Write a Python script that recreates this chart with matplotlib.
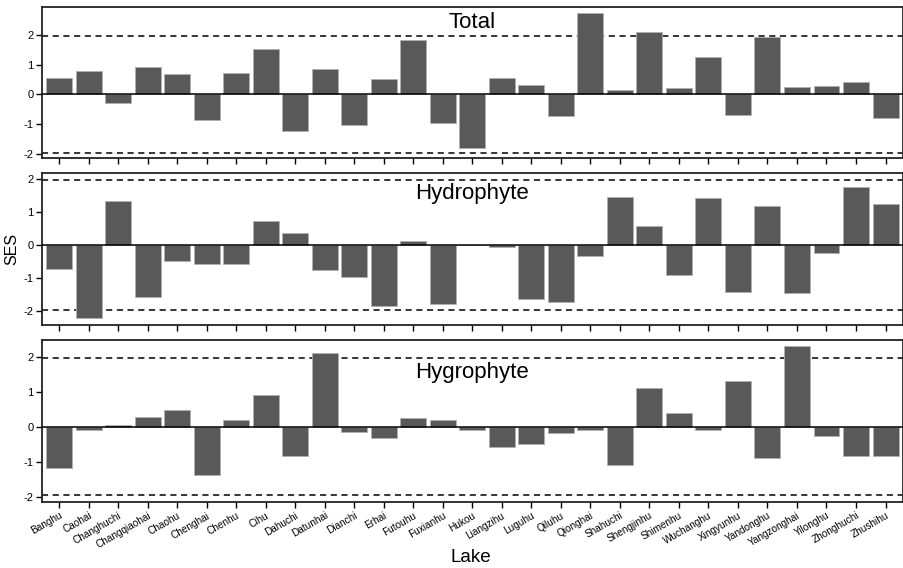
import numpy as np
import matplotlib
matplotlib.use("Agg")
import matplotlib.pyplot as plt

plt.rcParams["font.family"] = ["Liberation Sans", "DejaVu Sans"]
plt.rcParams["axes.unicode_minus"] = False

lakes = ["Banghu", "Caohai", "Changhuchi", "Changqiaohai", "Chaohu", "Chenghai",
         "Chenhu", "Cihu", "Dahuchi", "Datunhai", "Dianchi", "Erhai", "Futouhu",
         "Fuxianhu", "Hukou", "Liangzihu", "Luguhu", "Qiluhu", "Qionghai",
         "Shahuchi", "Shengjinhu", "Shimenhu", "Wuchanghu", "Xingyunhu",
         "Yandonghu", "Yangzonghai", "Yilonghu", "Zhonghuchi", "Zhushihu"]

total = [0.53, 0.77, -0.30, 0.93, 0.69, -0.87, 0.70, 1.52, -1.25, 0.84, -1.04,
         0.51, 1.81, -0.98, -1.80, 0.53, 0.30, -0.72, 2.72, 0.15, 2.11, 0.20,
         1.25, -0.69, 1.91, 0.24, 0.29, 0.40, -0.80]
hydrophyte = [-0.74, -2.21, 1.31, -1.58, -0.47, -0.59, -0.57, 0.72, 0.36, -0.76,
              -0.96, -1.84, 0.11, -1.79, 0.0, -0.05, -1.63, -1.72, -0.33, 1.43,
              0.58, -0.90, 1.40, -1.42, 1.18, -1.44, -0.25, 1.76, 1.22]
hygrophyte = [-1.18, -0.08, 0.06, 0.27, 0.47, -1.38, 0.20, 0.90, -0.82, 2.10,
              -0.16, -0.31, 0.25, 0.19, -0.09, -0.59, -0.48, -0.18, -0.08, -1.09,
              1.12, 0.38, -0.10, 1.32, -0.90, 2.30, -0.26, -0.82, -0.82]

panels = [("Total", total, (-2.14, 2.94), 0.895, [0.0465, 0.722, 0.952, 0.266]),
          ("Hydrophyte", hydrophyte, (-2.41, 2.16), 0.865, [0.0465, 0.428, 0.952, 0.267]),
          ("Hygrophyte", hygrophyte, (-2.15, 2.47), 0.80, [0.0465, 0.116, 0.952, 0.285])]

fig = plt.figure(figsize=(9.04, 5.68), dpi=100)
x = np.arange(len(lakes))

for i, (name, vals, ylim, ty, rect) in enumerate(panels):
    ax = fig.add_axes(rect)
    ax.bar(x, vals, width=0.88, color="#595959", edgecolor="#b0b0b0", linewidth=0.6, zorder=2)
    ax.axhline(0, color="black", lw=1.1, zorder=3)
    for h in (1.96, -1.96):
        ax.axhline(h, color="black", lw=1.1, ls=(0, (4, 3)), zorder=1)
    ax.set_xlim(-0.58, len(lakes) - 0.42)
    ax.set_ylim(*ylim)
    ax.set_yticks([-2, -1, 0, 1, 2])
    ax.set_xticks(x)
    ax.tick_params(direction="out", length=4, width=1, labelsize=8, colors="black", pad=2)
    for s in ax.spines.values():
        s.set_linewidth(1.3)
        s.set_color("#222222")
    ax.text(0.5, ty, name, transform=ax.transAxes, ha="center", va="center", fontsize=16)
    if i < 2:
        ax.set_xticklabels([])
    else:
        ax.set_xticklabels(lakes, rotation=30, ha="right", rotation_mode="anchor", fontsize=7.2)
    if i == 1:
        ax.set_ylabel("SES", fontsize=11.5, labelpad=3)

fig.text(0.521, 0.018, "Lake", ha="center", va="center", fontsize=13.5)

fig.savefig("out.png", dpi=100)
